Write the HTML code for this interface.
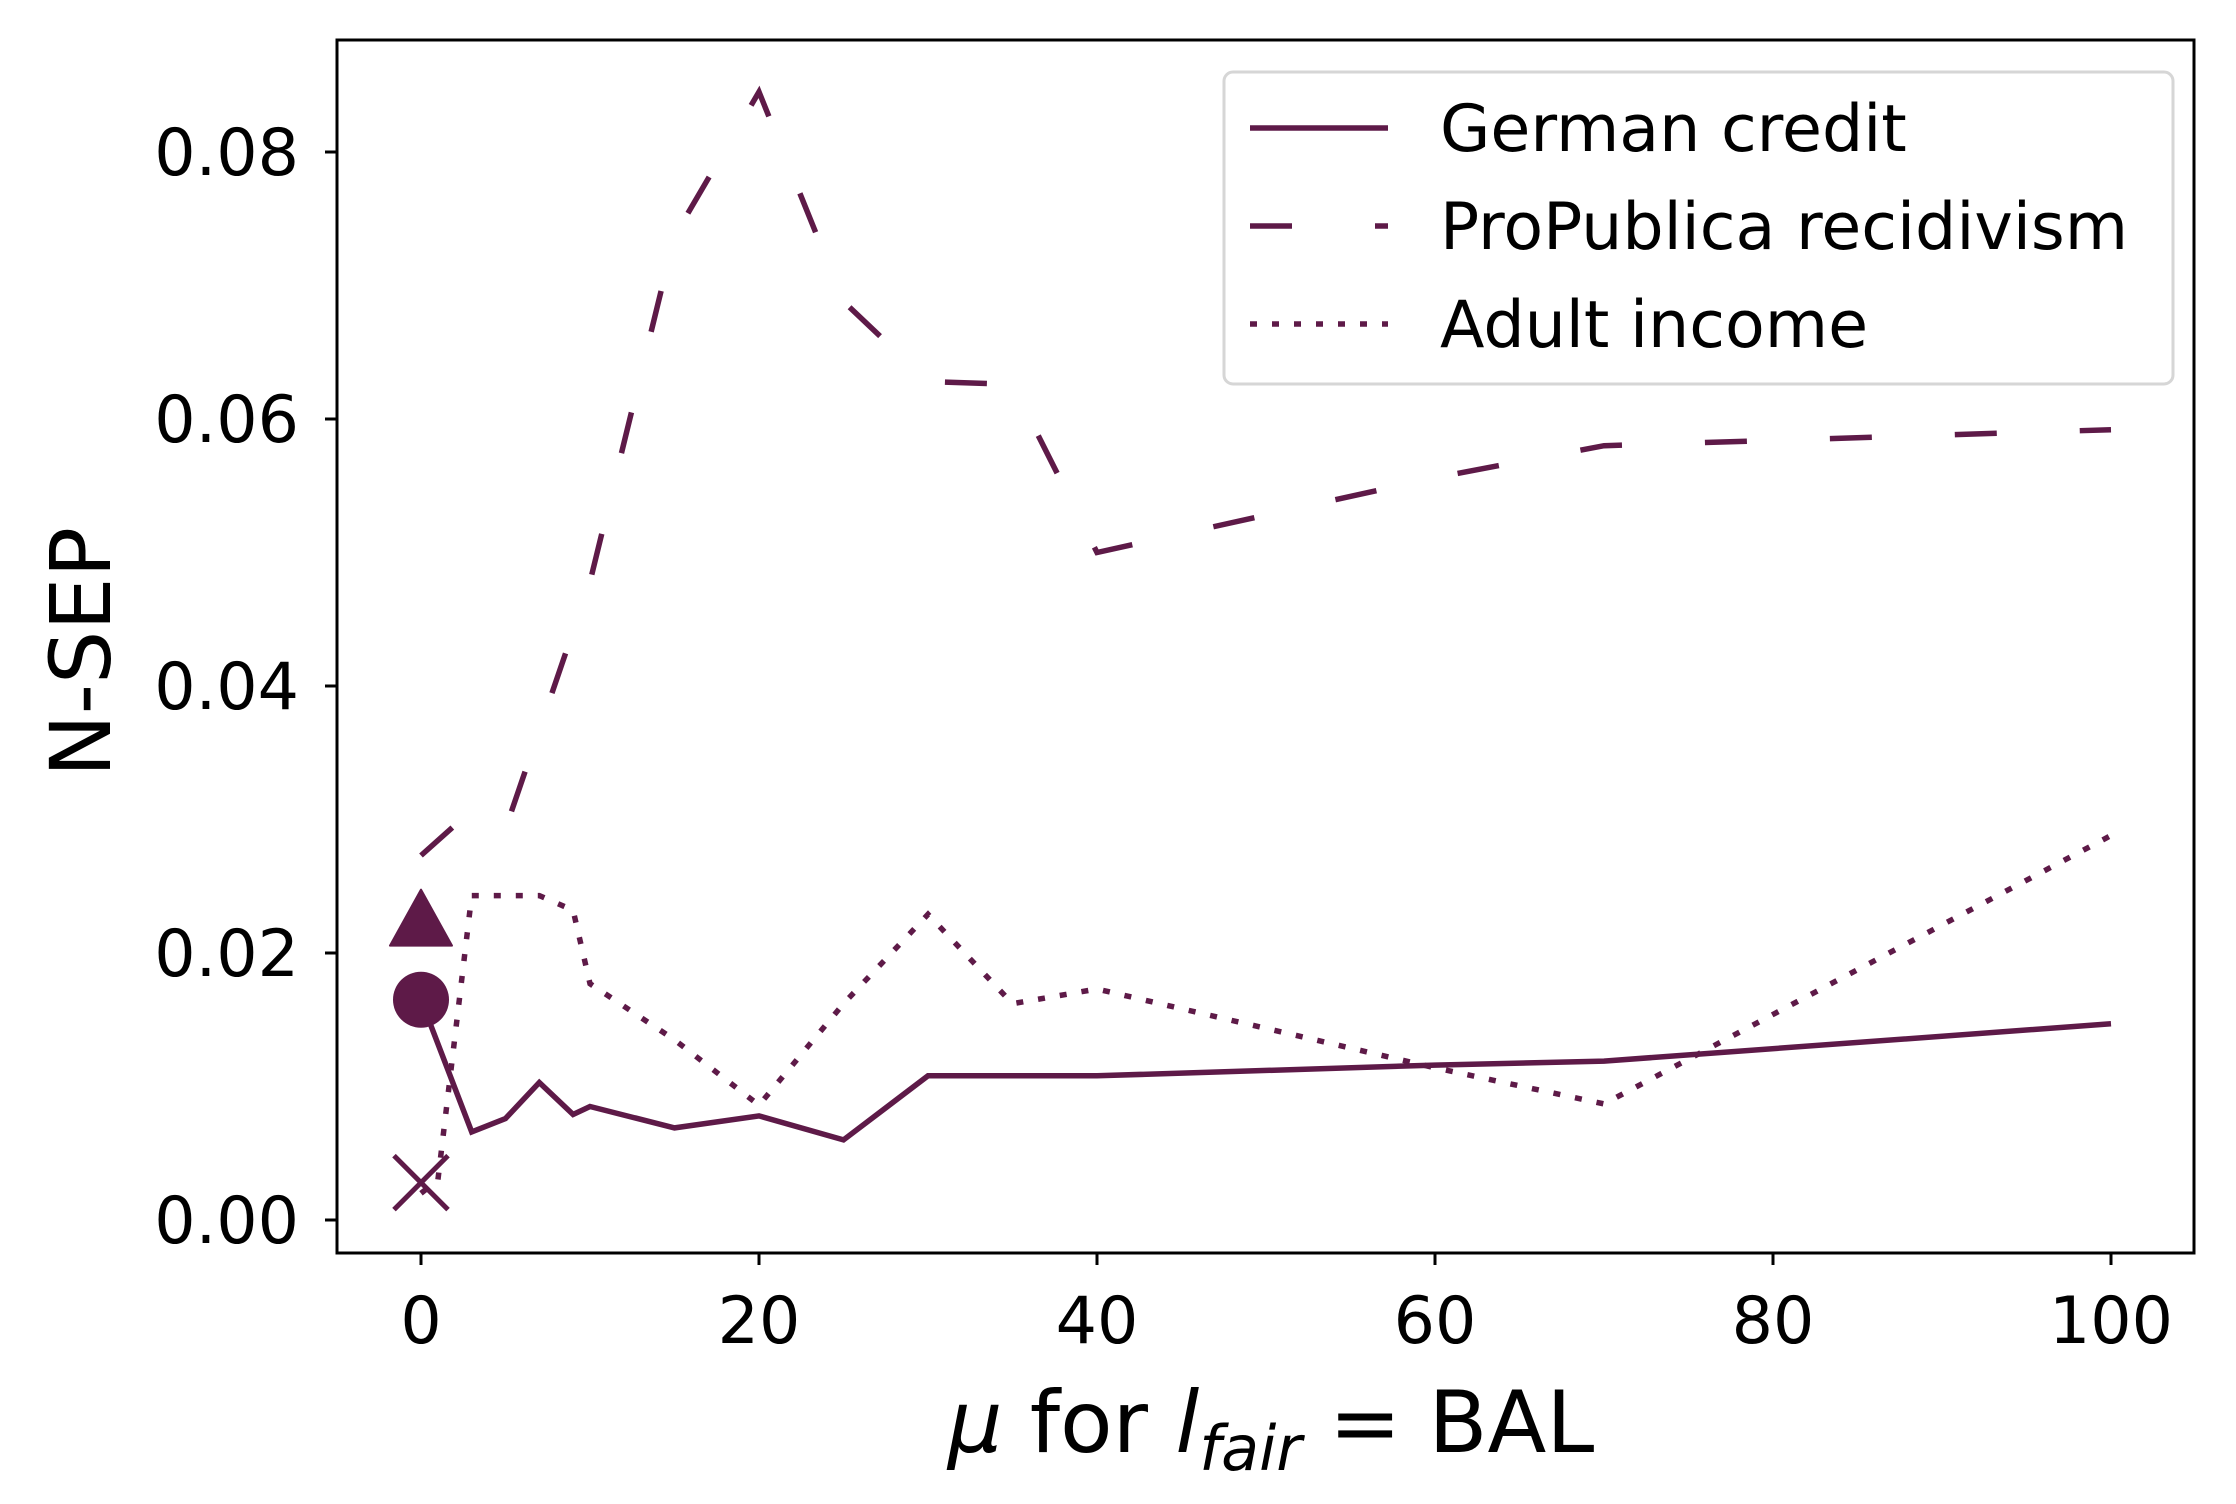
<!DOCTYPE html>
<html><head><meta charset="utf-8"><style>
html,body{margin:0;padding:0;background:#fff}
svg{display:block}
text{font-family:"DejaVu Sans","Liberation Sans",sans-serif;fill:#000}
</style></head><body>
<svg id="chart" width="2236" height="1504" viewBox="0 0 2236 1504">
<rect x="0" y="0" width="2236" height="1504" fill="#fff"/>
<g id="plot"></g>
</svg>
<script>
const germanX = [0,3,5,7,9,10,15,20,25,30,40,60,70,100];
const germanY = [0.0165,0.0066,0.0076,0.0103,0.0079,0.0085,0.0069,0.0078,0.0060,0.0108,0.0108,0.0116,0.0119,0.0147];
const propubX = [0,3,5,10,15,20,25,30,35,40,60,70,100];
const propubY = [0.0273,0.0307,0.0293,0.0478,0.0737,0.0845,0.0688,0.0628,0.0626,0.0500,0.0556,0.0580,0.0592];
const adultX = [0,1,3,5,7,9,10,15,20,25,30,35,40,60,70,100];
const adultY = [0.0020,0.0030,0.0243,0.0243,0.0243,0.0232,0.0177,0.0135,0.0086,0.0162,0.0229,0.0162,0.0173,0.0114,0.0087,0.0288];
const xTicks = [0,20,40,60,80,100];
const yTicks = [0,0.02,0.04,0.06,0.08];
const yTickLabels = ["0.00","0.02","0.04","0.06","0.08"];
const markerGerman = 0.0165, markerPropub = 0.0225, markerAdult = 0.0028;

const NS='http://www.w3.org/2000/svg';
const g=document.getElementById('plot');
const L=337,R=2194,T=40,B=1253;
function sx(v){return 421+(v-0)*(2111-421)/100;}
function sy(v){return 1220-(v-0)*(1220-152)/0.08;}
const col='#5e1a48';
const LW=5.5;
function mk(tag,attrs){const e=document.createElementNS(NS,tag);for(const k in attrs)e.setAttribute(k,attrs[k]);g.appendChild(e);return e;}
function pts(xs,ys){return xs.map((x,i)=>sx(x).toFixed(1)+','+sy(ys[i]).toFixed(1)).join(' ');}

let e;
e=mk('polyline',{points:pts(propubX,propubY),fill:'none',stroke:col,'stroke-width':LW,'stroke-dasharray':'42 83'});


e=mk('polyline',{points:pts(adultX,adultY),fill:'none',stroke:col,'stroke-width':LW,'stroke-dasharray':'7 15'});


e=mk('polyline',{points:pts(germanX,germanY),fill:'none',stroke:col,'stroke-width':LW,'stroke-linejoin':'miter'});



const mx=sx(0);
e=mk('circle',{cx:mx,cy:sy(markerGerman),r:28,fill:col});


const ty=sy(markerPropub);
e=mk('polygon',{points:`${mx},${ty-30} ${mx-31},${ty+26} ${mx+31},${ty+26}`,fill:col,'stroke':col,'stroke-width':2,'stroke-linejoin':'round'});


const ay=sy(markerAdult);
e=mk('path',{d:`M${mx-27},${ay-27}L${mx+27},${ay+27}M${mx-27},${ay+27}L${mx+27},${ay-27}`,stroke:col,'stroke-width':5,fill:'none'});



e=mk('rect',{x:L,y:T,width:R-L,height:B-T,fill:'none',stroke:'#000','stroke-width':3});



xTicks.forEach(v=>{
  const x=sx(v);
  let t=mk('line',{x1:x,y1:B,x2:x,y2:B+12,stroke:'#000','stroke-width':3});
  
  
  let tx=mk('text',{x:x,y:B+90,'font-size':65,'text-anchor':'middle'});
  tx.textContent=String(v);
  
  
});
yTicks.forEach((v,i)=>{
  const y=sy(v);
  let t=mk('line',{x1:L-12,y1:y,x2:L,y2:y,stroke:'#000','stroke-width':3});
  
  
  let tx=mk('text',{x:L-38,y:y+23,'font-size':65,'text-anchor':'end'});
  tx.textContent=yTickLabels[i];
  
  
});

e=mk('text',{x:0,y:0,'font-size':84,'text-anchor':'middle',transform:'translate(110,652) rotate(-90)'});
e.textContent='N-SEP';


e=mk('text',{x:1271,y:1452,'font-size':86,'text-anchor':'middle'});
e.innerHTML='<tspan font-style="italic">μ</tspan> for <tspan font-style="italic">l</tspan><tspan font-style="italic" font-size="62" dy="18">fair</tspan><tspan dy="-18"> = BAL</tspan>';



e=mk('rect',{x:1224,y:72,width:949,height:312,rx:9,fill:'#fff','fill-opacity':0.8,stroke:'#d6d6d6','stroke-width':3});


const leg=[['German credit','none','german'],['ProPublica recidivism','42 83','propublica'],['Adult income','7 15','adult']];
leg.forEach((d,i)=>{
  const y=128+i*98;
  let l=mk('line',{x1:1250,y1:y,x2:1388,y2:y,stroke:col,'stroke-width':LW,'stroke-dasharray':d[1]});
  
  
  let t=mk('text',{x:1440,y:y+23,'font-size':65});
  t.textContent=d[0];
  
  
});
</script>
</body></html>
